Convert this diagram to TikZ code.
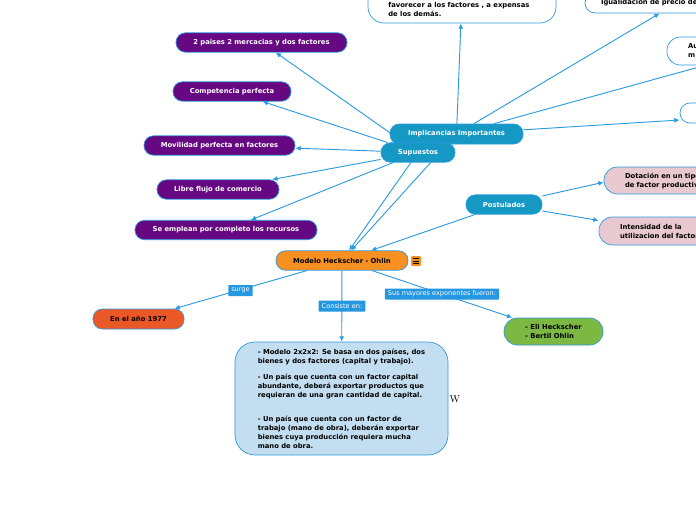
\documentclass[tikz,border=0pt]{standalone}
\usepackage{fontspec}
\newfontfamily\mapfont{DejaVu Sans}
\usetikzlibrary{arrows.meta,backgrounds}

\definecolor{edge}{RGB}{45,155,225}
\definecolor{headc}{RGB}{22,152,196}
\definecolor{purplec}{RGB}{102,8,130}
\definecolor{modelc}{RGB}{246,144,32}
\definecolor{yearc}{RGB}{234,88,40}
\definecolor{bodyc}{RGB}{195,222,241}
\definecolor{pinkc}{RGB}{232,201,207}
\definecolor{greenc}{RGB}{124,184,66}
\definecolor{tagc}{RGB}{37,150,224}

\begin{document}
\begin{tikzpicture}[x=0.03cm,y=-0.03cm,
  box/.style={draw=edge,line width=0.6pt,inner sep=0pt,font=\mapfont\bfseries\fontsize{5.8}{7.7}\selectfont},
  pill/.style={box,rounded corners=0.28cm,minimum height=0.58cm},
  head/.style={pill,fill=headc,text=white},
  supp/.style={pill,fill=purplec,text=white},
  side/.style={box,fill=white,rounded corners=0.4cm,align=left},
  tag/.style={fill=tagc,text=white,rounded corners=0.5pt,inner xsep=0.09cm,inner ysep=0pt,minimum height=0.33cm,font=\mapfont\fontsize{5.6}{7}\selectfont},
  conn/.style={draw=edge,line width=0.8pt,-{Latex[length=1.6mm,width=1.5mm]}}]

\useasboundingbox (0,0) rectangle (696,520);
\clip (0,0) rectangle (696,520);

% boxes cut by the page border
\node[side,minimum width=5.64cm,minimum height=1.68cm,rounded corners=0.48cm] (top) at (462,-5) {};
\node[box,anchor=west,draw=none,align=left] (toptxt) at (388,9.5) {favorecer a los factores , a expensas\\de los demás.};
\node[side,rounded corners=0.3cm,minimum height=0.6cm,text width=4.56cm,inner xsep=0.48cm] (igual) at (677,3) {Igualidación de precio de};
\node[side,minimum height=0.84cm,text width=4.14cm,inner xsep=0.63cm] (au) at (757,51) {Au\\m};
\node[side,rounded corners=0.3cm,minimum width=6.72cm,minimum height=0.6cm] (blank) at (792,113) {};
\node[side,fill=pinkc,minimum height=0.81cm,text width=4.74cm,inner xsep=0.63cm] (dot) at (704,180.5) {Dotación en un tipo\\de factor productivo};
\node[side,fill=pinkc,minimum height=0.84cm,text width=4.74cm,inner xsep=0.63cm] (int) at (699,231) {Intensidad de la\\utilizacion del factor};

% supuestos
\node[supp,minimum width=5.13cm] (paises) at (261.5,42.5) {2 paises 2 mercacias y dos factores};
\node[supp,minimum width=3.54cm] (comp) at (232,91.5) {Competencia perfecta};
\node[supp,minimum width=4.53cm] (movil) at (219.5,145.5) {Movilidad perfecta en factores};
\node[supp,minimum width=3.66cm] (libre) at (218,189.5) {Libre flujo de comercio};
\node[supp,minimum width=5.46cm] (empleo) at (226,230) {Se emplean por completo los recursos};

\node[head,minimum width=3.99cm,minimum height=0.6cm] (impl) at (456.5,134) {Implicancias Importantes};
\node[head,minimum width=2.22cm] (sup) at (418,152.5) {Supuestos};
\node[head,minimum width=2.28cm] (post) at (504,204.5) {Postulados};

\node[pill,fill=modelc,minimum width=3.96cm] (model) at (342,260.5) {Modelo Heckscher - Ohlin};
\node[fill=modelc,rounded corners=1pt,minimum size=0.3cm,inner sep=0pt] (menu) at (416,261) {};
\foreach \d in {-2.5,0,2.5}
  \draw[line width=0.6pt] ([shift={(-3,\d)}]menu.center) -- ++(6,0);

\node[pill,fill=yearc,minimum width=2.73cm,minimum height=0.6cm] (anio) at (138.5,319) {En el año 1977};
\node[pill,fill=greenc,rounded corners=0.4cm,minimum width=2.97cm,minimum height=0.81cm,align=left] (names) at (553.5,331.5) {- Eli Heckscher\\- Bertil Ohlin};
\node[box,fill=bodyc,rounded corners=0.6cm,minimum width=6.39cm,minimum height=3.39cm,align=left] (body) at (341.5,398.5)
  {- Modelo 2x2x2: Se basa en dos países, dos\\bienes y dos factores (capital y trabajo).\\[0.21cm]
   - Un país que cuenta con un factor capital\\abundante, deberá exportar productos que\\requieran de una gran cantidad de capital.\\[0.45cm]
   - Un país que cuenta con un factor de\\trabajo (mano de obra), deberán exportar\\bienes cuya producción requiera mucha\\mano de obra.};
\node (w) at (455,399) {\fontsize{8.5}{10}\selectfont W};

\begin{scope}[on background layer]
\clip (0,0) rectangle (696,520);
\draw[conn] (sup) -- (paises);
\draw[conn] (sup) -- (comp);
\draw[conn] (sup) -- (movil);
\draw[conn] (sup) -- (libre);
\draw[conn] (sup) -- (empleo);
\draw[conn] (sup) -- (model);
\draw[conn] (impl) -- (model);
\draw[conn] (impl) -- (top);
\draw[conn] (impl) -- (igual);
\draw[conn] (impl) -- (au);
\draw[conn] (impl) -- (blank);
\draw[conn] (post) -- (dot.181);
\draw[conn] (post) -- (int.174);
\draw[conn] (post) -- (model);
\draw[conn] (model) -- (anio);
\draw[conn] (model) -- (body);
\draw[conn] (model) -- (names);
\end{scope}

\node[tag] (surge) at (240.5,290.5) {surge};
\node[tag] (consiste) at (342,306) {Consiste en:};
\node[tag] (sus) at (442,294) {Sus mayores exponentes fueron:};

\end{tikzpicture}
\end{document}
